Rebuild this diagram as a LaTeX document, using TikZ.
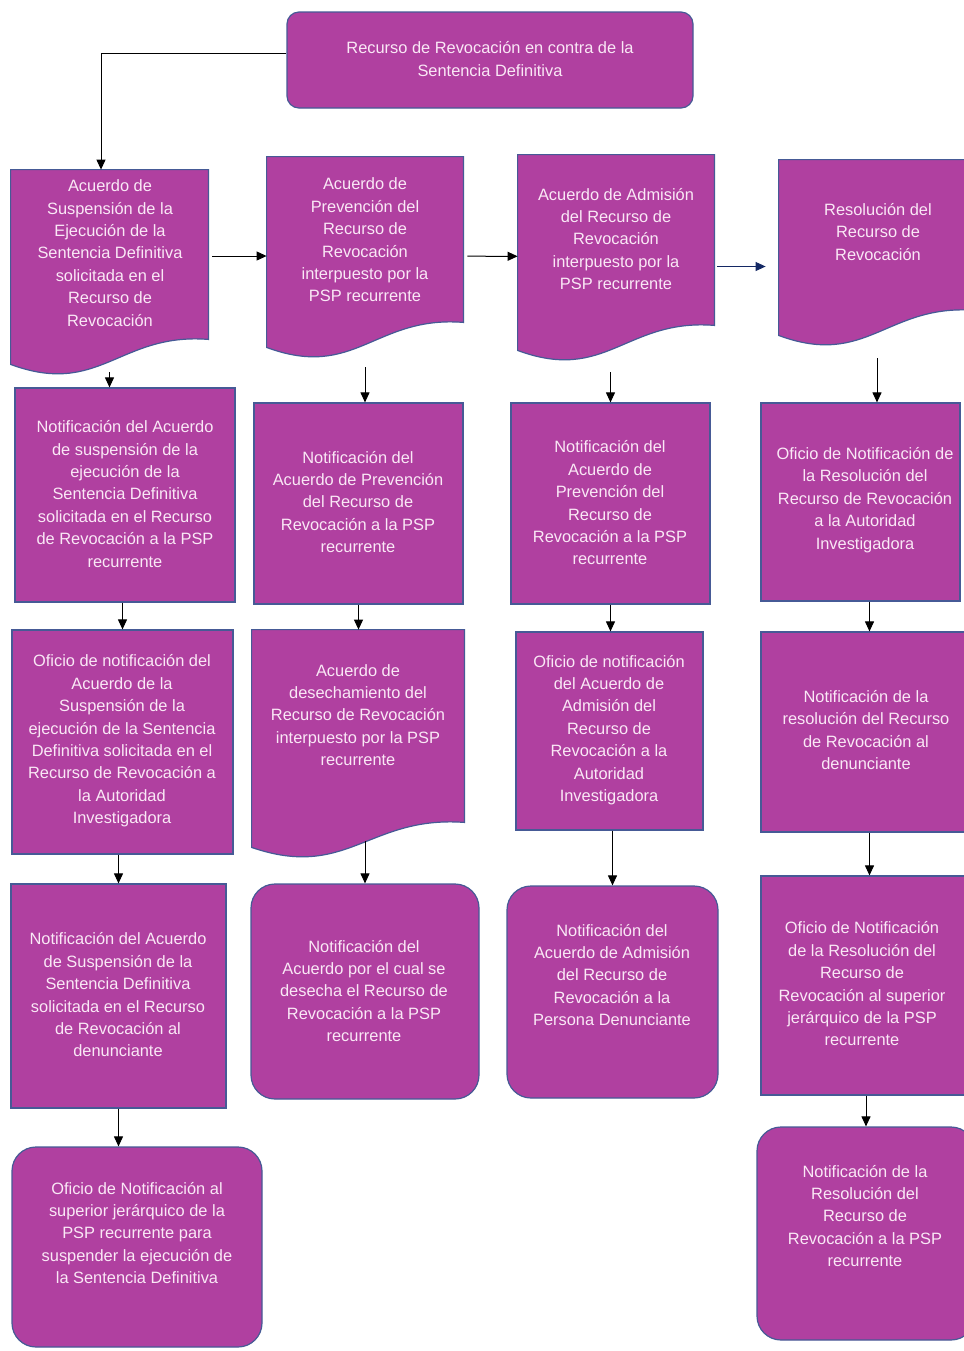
\documentclass[tikz,border=0pt]{standalone}
\usepackage{fontspec}
\setmainfont{Liberation Sans}
\usepackage{tikz}
\usetikzlibrary{calc,positioning,arrows.meta}

\definecolor{recfill}{RGB}{176,64,160}
\definecolor{recline}{RGB}{70,90,150}
\definecolor{rectext}{RGB}{250,232,246}
\definecolor{navyarrow}{RGB}{20,40,100}

\begin{document}
\begin{tikzpicture}[x=0.5pt, y=-0.5pt,
    sz/.style 2 args={minimum width=#1*0.5pt, minimum height=#2*0.5pt},
    box/.style={draw=recline, line width=0.6pt, fill=recfill, rectangle, inner sep=0pt},
    roundbox/.style={box, rounded corners=12pt},
    docbox/.style={rectangle, inner sep=0pt},
    txt/.style={text=rectext, align=center, inner sep=0pt, font=\fontsize{8.2}{11.2}\selectfont},
    arr/.style={-{Triangle[length=5pt,width=4.5pt]}, line width=0.5pt, black},
    arrnavy/.style={arr, navyarrow}]
    \useasboundingbox (0,0) rectangle (964,1351);
    \fill[white] (0,0) rectangle (964,1351);

    \node[box, rounded corners=6pt, sz={406}{96}] (top) at (490,60) {};

    % fila de acuerdos (documentos)
    \node[docbox, sz={197}{202}] (a1) at (109.5,271) {};
    \node[docbox, sz={196}{198}] (a2) at (365,256) {};
    \node[docbox, sz={196}{203}] (a3) at (616,256.5) {};
    \node[docbox, sz={196}{183}] (a4) at (877,251.5) {};

    \node[box, sz={220}{214}] (b1) at (125,495) {};
    \node[box, sz={209}{201}] (b2) at (358.5,503.5) {};
    \node[box, sz={199}{201}] (b3) at (610.5,503.5) {};
    \node[box, sz={199}{198}] (b4) at (860.5,502) {};

    \node[box, sz={221}{224}] (c1) at (122.5,742) {};
    \node[docbox, sz={212}{225}] (c2) at (358,742.5) {};
    \node[box, sz={187}{198}] (c3) at (609.5,731) {};
    \node[box, sz={217}{200}] (c4) at (869.5,732) {};

    \node[box, sz={215}{224}] (d1) at (118.5,996) {};
    \node[roundbox, sz={228}{215}] (d2) at (365,991.5) {};
    \node[roundbox, sz={211}{212}] (d3) at (612.5,992) {};
    \node[box, sz={217}{219}] (d4) at (869.5,985.5) {};

    \node[roundbox, sz={250}{200}] (e1) at (137,1247) {};
    \node[roundbox, sz={218}{213}] (e4) at (866,1233.5) {};

    % forma de documento con borde ondulado
    \foreach \n in {a1,a2,a3,a4,c2}
        \filldraw[draw=recline, line width=0.6pt, fill=recfill]
            (\n.north west) -- (\n.north east) -- ($(\n.south east)+(0,16.5pt)$)
            .. controls ($(\n.south east)!0.45!(\n.south west)+(0,20pt)$)
            and ($(\n.south west)!0.45!(\n.south east)+(0,-12.5pt)$)
            .. ($(\n.south west)+(0,4pt)$) -- cycle;

    \node[txt] (topt) at (490,59) {Recurso de Revocación en contra de la\\Sentencia Definitiva};
    \node[txt] (a1t) at (110,253) {Acuerdo de\\Suspensión de la\\Ejecución de la\\Sentencia Definitiva\\solicitada en el\\Recurso de\\Revocación};
    \node[txt] (a2t) at (365,240) {Acuerdo de\\Prevención del\\Recurso de\\Revocación\\interpuesto por la\\PSP recurrente};
    \node[txt] (a3t) at (616,239) {Acuerdo de Admisión\\del Recurso de\\Revocación\\interpuesto por la\\PSP recurrente};
    \node[txt] (a4t) at (878,232) {Resolución del\\Recurso de\\Revocación};

    \node[txt] (b1t) at (125,494) {Notificación del Acuerdo\\de suspensión de la\\ejecución de la\\Sentencia Definitiva\\solicitada en el Recurso\\de Revocación a la PSP\\recurrente};
    \node[txt] (b2t) at (358,502) {Notificación del\\Acuerdo de Prevención\\del Recurso de\\Revocación a la PSP\\recurrente};
    \node[txt] (b3t) at (610,503) {Notificación del\\Acuerdo de\\Prevención del\\Recurso de\\Revocación a la PSP\\recurrente};
    \node[txt] (b4t) at (865,500) {Oficio de Notificación de\\la Resolución del\\Recurso de Revocación\\a la Autoridad\\Investigadora};

    \node[txt] (c1t) at (122,741) {Oficio de notificación del\\Acuerdo de la\\Suspensión de la\\ejecución de la Sentencia\\Definitiva solicitada en el\\Recurso de Revocación a\\la Autoridad\\Investigadora};
    \node[txt] (c2t) at (358,715) {Acuerdo de\\desechamiento del\\Recurso de Revocación\\interpuesto por la PSP\\recurrente};
    \node[txt] (c3t) at (609,730) {Oficio de notificación\\del Acuerdo de\\Admisión del\\Recurso de\\Revocación a la\\Autoridad\\Investigadora};
    \node[txt] (c4t) at (866,730) {Notificación de la\\resolución del Recurso\\de Revocación al\\denunciante};

    \node[txt] (d1t) at (118,995) {Notificación del Acuerdo\\de Suspensión de la\\Sentencia Definitiva\\solicitada en el Recurso\\de Revocación al\\denunciante};
    \node[txt] (d2t) at (364,991) {Notificación del\\Acuerdo por el cual se\\desecha el Recurso de\\Revocación a la PSP\\recurrente};
    \node[txt] (d3t) at (612,975) {Notificación del\\Acuerdo de Admisión\\del Recurso de\\Revocación a la\\Persona Denunciante};
    \node[txt] (d4t) at (862,984) {Oficio de Notificación\\de la Resolución del\\Recurso de\\Revocación al superior\\jerárquico de la PSP\\recurrente};

    \node[txt] (e1t) at (137,1233) {Oficio de Notificación al\\superior jerárquico de la\\PSP recurrente para\\suspender la ejecución de\\la Sentencia Definitiva};
    \node[txt] (e4t) at (865,1216) {Notificación de la\\Resolución del\\Recurso de\\Revocación a la PSP\\recurrente};

    % conectores
    \draw[arr] ($(top.west)+(0,3.5pt)$) -| ($(a1.north)+(-4.25pt,0)$);
    \draw[arr, shorten <=2pt] (a1.east |- a2) -- (a2);
    \draw[arr, shorten <=2pt] (a2) -- (a3);
    \draw[arrnavy, shorten <=1.5pt, shorten >=6.5pt] ($(a3.east)+(0,-5pt)$) -- ($(a3.east -| a4.west)+(0,-5pt)$);

    \draw[arr] (a1.south) -- (a1.south |- b1.north);
    \draw[arr, shorten <=6pt] (a2.south) -- (a2.south |- b2.north);
    \draw[arr, shorten <=7pt] (b3.north |- a3.south) -- (b3.north);
    \draw[arr, shorten <=7.5pt] (a4.south) -- (a4.south |- b4.north);

    \draw[arr] (c1.north |- b1.south) -- (c1.north);
    \draw[arr] (b2.south) -- (b2.south |- c2.north);
    \draw[arr] (b3.south) -- (b3.south |- c3.north);
    \draw[arr] (c4.north |- b4.south) -- (c4.north);

    \draw[arr] (d1.north |- c1.south) -- (d1.north);
    \draw[arr, shorten <=-7pt] (d2.north |- c2.south) -- (d2.north);
    \draw[arr] (d3.north |- c3.south) -- (d3.north);
    \draw[arr] (c4.south) -- (c4.south |- d4.north);

    \draw[arr] (d1.south) -- (d1.south |- e1.north);
    \draw[arr] (e4.north |- d4.south) -- (e4.north);
\end{tikzpicture}
\end{document}
